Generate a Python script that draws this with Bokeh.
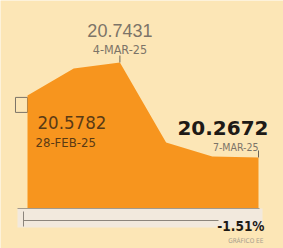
from bokeh.plotting import figure
from bokeh.models import Label, Range1d
from bokeh.embed import file_html
from bokeh.resources import INLINE

# ---- data ----
dates = ["28-FEB-25", "3-MAR-25", "4-MAR-25", "5-MAR-25", "6-MAR-25", "7-MAR-25"]
rates = [20.5782, 20.7130, 20.7431, 20.3420, 20.2720, 20.2672]
source_note = "GRÁFICO EE"
idx = list(range(len(rates)))
change = (rates[-1] / rates[0] - 1) * 100

# ---- layout ----
W, H = 283, 248
X0, X1 = -0.5844, 5.541
Y0, Y1 = 19.8112, 21.0537
PPX = W / (X1 - X0)
PPY = H / (Y1 - Y0)


def dx(px):
    return px / PPX


def dy(px):
    return px / PPY


def xpage(px):
    return X0 + px / PPX


def ypage(py):
    return Y1 - py / PPY


BG = "#fce6b6"
ORANGE = "#f7951e"
BAND = "#f2e9dd"
BROWN = "#5a3a14"
GRAY = "#7c7468"
DARK = "#1e1a16"
COND = "DejaVu Sans Condensed"

p = figure(width=W, height=H, x_range=Range1d(X0, X1), y_range=Range1d(Y0, Y1),
           output_backend="svg", toolbar_location=None, min_border=0,
           x_axis_location=None, y_axis_location=None,
           background_fill_color=BG, border_fill_color=BG, outline_line_color=None)
p.grid.visible = False

base = ypage(208)

# bottom band
p.quad(left=xpage(17), right=xpage(262), top=base, bottom=ypage(227),
       fill_color=BAND, line_color=None)

# legend-like square at first point
p.rect(x=idx[0] - dx(6), y=rates[0] - dy(9.5), width=12, height=15,
       width_units="screen", height_units="screen",
       fill_color=None, line_color=GRAY, line_width=1)
p.segment(x0=idx[0], y0=rates[0] - dy(17), x1=idx[0] + dx(6), y1=rates[0] - dy(17),
          line_color=GRAY, line_width=1)

# area
p.varea(x=idx, y1=[base] * len(idx), y2=rates, fill_color=ORANGE)

# band lines
p.segment(x0=xpage(17), y0=base, x1=xpage(259), y1=base, line_color="#a39a8c", line_width=1)
p.segment(x0=xpage(23), y0=ypage(220), x1=xpage(218), y1=ypage(220), line_color="#8c857c", line_width=1.2)
p.segment(x0=xpage(23), y0=ypage(211), x1=xpage(23), y1=ypage(226), line_color="#8c857c", line_width=1)

# ticks above peak and last point
for i in (2, 5):
    p.segment(x0=idx[i], y0=rates[i], x1=idx[i], y1=rates[i] + dy(7), line_color="#6d6558", line_width=1)

# labels
p.add_layout(Label(x=idx[2], y=rates[2], y_offset=32, text=f"{rates[2]:.4f}",
                   text_align="center", text_baseline="alphabetic",
                   text_font="Liberation Sans", text_font_size="18px", text_color=GRAY))
p.add_layout(Label(x=idx[2], y=rates[2], y_offset=13, text=dates[2],
                   text_align="center", text_baseline="alphabetic",
                   text_font=COND, text_font_size="12.5px", text_color=GRAY))

p.add_layout(Label(x=idx[0], y=rates[0], x_offset=10, y_offset=-27, text=f"{rates[0]:.4f}",
                   text_align="left", text_baseline="alphabetic",
                   text_font=COND, text_font_size="18.5px", text_color=BROWN))
p.add_layout(Label(x=idx[0], y=rates[0], x_offset=8, y_offset=-47, text=dates[0],
                   text_align="left", text_baseline="alphabetic",
                   text_font=COND, text_font_size="13px", text_color=BROWN))

p.add_layout(Label(x=idx[5], y=rates[5], x_offset=10, y_offset=29, text=f"{rates[5]:.4f}",
                   text_align="right", text_baseline="alphabetic",
                   text_font="DejaVu Sans", text_font_style="bold", text_font_size="20px", text_color=DARK))
p.add_layout(Label(x=idx[5], y=rates[5], x_offset=0, y_offset=10, text=dates[5],
                   text_align="right", text_baseline="alphabetic",
                   text_font=COND, text_font_size="10.5px", text_color=GRAY))

p.add_layout(Label(x=idx[5], y=ypage(220), x_offset=6, y_offset=-5, text=f"{change:.2f}%",
                   text_align="right", text_baseline="alphabetic",
                   text_font=COND, text_font_style="bold", text_font_size="13.5px", text_color=DARK))
p.add_layout(Label(x=idx[5], y=ypage(220), x_offset=5, y_offset=-20, text=source_note,
                   text_align="right", text_baseline="alphabetic",
                   text_font=COND, text_font_size="6.5px", text_color="#a89e8e"))

html = file_html(p, INLINE)
html = html.replace("<body>", f'<body style="background:{BG}">', 1)
open("out.html", "w").write(html)
